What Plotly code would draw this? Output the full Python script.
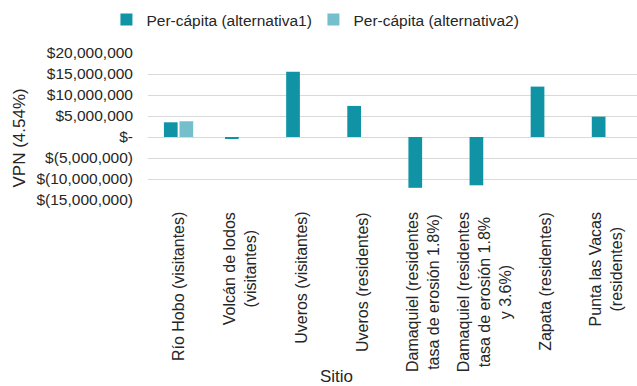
import plotly.graph_objects as go

sitios = [
    "Río Hobo (visitantes)",
    "Volcán de lodos<br>(visitantes)",
    "Uveros (visitantes)",
    "Uveros (residentes)",
    "Damaquiel (residentes<br>tasa de erosión 1.8%)",
    "Damaquiel (residentes<br>tasa de erosión 1.8%<br>y 3.6%)",
    "Zapata (residentes)",
    "Punta las Vacas<br>(residentes)",
]
alternativa1 = [3.5e6, -0.4e6, 15.55e6, 7.4e6, -12.1e6, -11.5e6, 12.0e6, 4.85e6]
alternativa2 = [3.75e6, None, None, None, None, None, None, None]

tick_vals = [20e6, 15e6, 10e6, 5e6, 0, -5e6, -10e6, -15e6]
tick_text = ["$20,000,000", "$15,000,000", "$10,000,000", "$5,000,000", "$-",
             "$(5,000,000)", "$(10,000,000)", "$(15,000,000)"]

FONT = "Liberation Sans, Arial, sans-serif"
TEXT = "#262626"
GRID = "#d9d9d9"

# plot area geometry (pixels) used to place titles in paper units
L, T, W, H = 148, 53, 489, 147

fig = go.Figure()
fig.add_trace(go.Bar(x=sitios, y=alternativa1, name="Per-cápita (alternativa1)",
                     marker=dict(color="#1093a5", line=dict(width=0))))
fig.add_trace(go.Bar(x=sitios, y=alternativa2, name="Per-cápita (alternativa2)",
                     marker=dict(color="#75bfcd", line=dict(width=0))))

# category labels: rotated, with centred lines
labels = [dict(text=s, x=s, xref="x", y=-10 / H, yref="paper",
               xanchor="center", yanchor="top", textangle=-90, align="center",
               showarrow=False, font=dict(size=16, color=TEXT))
          for s in sitios]

titles = [
    dict(text="Sitio", xref="paper", yref="paper",
         x=(336 - L) / W, y=-(377 - (T + H)) / H,
         xanchor="center", yanchor="middle", showarrow=False,
         font=dict(size=17, color=TEXT)),
    dict(text="VPN (4.54%)", xref="paper", yref="paper",
         x=(18.5 - L) / W, y=((T + H) - 138) / H, textangle=-90,
         xanchor="center", yanchor="middle", showarrow=False,
         font=dict(size=17, color=TEXT)),
]

fig.update_layout(
    width=637, height=386,
    margin=dict(l=L, r=637 - L - W, t=T, b=386 - T - H),
    paper_bgcolor="white", plot_bgcolor="white",
    font=dict(family=FONT, size=15.5, color=TEXT),
    barmode="group", bargap=0.49, bargroupgap=0.12,
    showlegend=True,
    legend=dict(orientation="h", x=-0.085, xanchor="left", y=1 + (T - 20) / H,
                yanchor="middle", font=dict(size=15.5, color=TEXT), entrywidth=162,
                bgcolor="rgba(0,0,0,0)", itemclick=False),
    xaxis=dict(showticklabels=False, showgrid=False, showline=False, zeroline=False,
               ticks="", automargin=False),
    yaxis=dict(range=[-15e6, 20e6], tickvals=tick_vals, ticktext=tick_text,
               showgrid=True, gridcolor=GRID, gridwidth=1,
               zeroline=True, zerolinecolor=GRID, zerolinewidth=1,
               showline=False, ticks="", ticklabelstandoff=14,
               tickfont=dict(size=15.5), automargin=False),
    annotations=labels + titles,
)

fig.write_html("out.html")
